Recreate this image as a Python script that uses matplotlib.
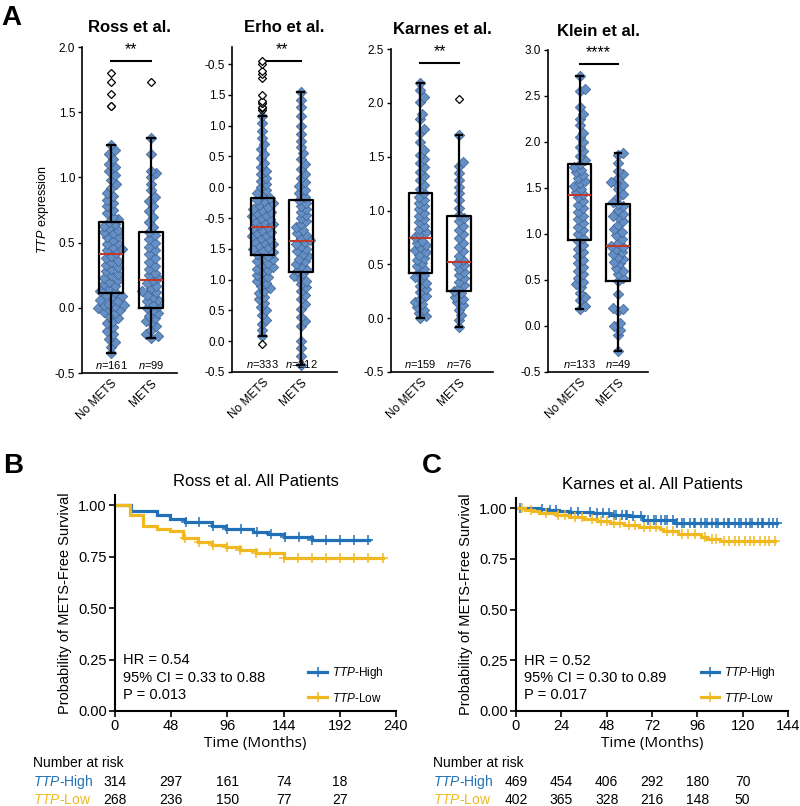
import numpy as np
import matplotlib
matplotlib.use('Agg')
import matplotlib.pyplot as plt
from matplotlib.lines import Line2D
from matplotlib.transforms import blended_transform_factory

plt.rcParams['font.family'] = ['Liberation Sans', 'DejaVu Sans']
plt.rcParams['mathtext.fontset'] = 'custom'
plt.rcParams['mathtext.it'] = 'Liberation Sans:italic'
plt.rcParams['mathtext.rm'] = 'Liberation Sans'

# ---------------- panel A data ----------------
groups = ['No METS', 'METS']
studies = ['Ross et al.', 'Erho et al.', 'Karnes et al.', 'Klein et al.']
n_counts = [[161, 99], [333, 212], [159, 76], [133, 49]]
stars = ['**', '**', '**', '****']

ross_no = [-0.35, -0.30, -0.26, -0.24, -0.20, -0.18, -0.15, -0.12, -0.10, -0.08, -0.06, -0.04,
           -0.03, -0.02, -0.01, 0.00, 0.01, 0.02, 0.02, 0.03, 0.05, 0.06, 0.08, 0.09, 0.10,
           0.12, 0.13, 0.15, 0.17, 0.18, 0.20, 0.21, 0.23, 0.25, 0.26, 0.28, 0.30, 0.31, 0.33,
           0.35, 0.36, 0.38, 0.40, 0.42, 0.44, 0.45, 0.47, 0.49, 0.50, 0.52, 0.54, 0.55, 0.57,
           0.58, 0.60, 0.61, 0.63, 0.64, 0.66, 0.68, 0.70, 0.73, 0.75, 0.78, 0.80, 0.83, 0.86,
           0.88, 0.92, 0.95, 0.98, 1.02, 1.05, 1.08, 1.10, 1.14, 1.18, 1.21, 1.25]
ross_mets = [-0.23, -0.22, -0.20, -0.17, -0.14, -0.12, -0.10, -0.08, -0.06, -0.04, -0.02, 0.00,
             0.01, 0.03, 0.05, 0.06, 0.08, 0.10, 0.12, 0.13, 0.15, 0.17, 0.19, 0.21, 0.23, 0.25,
             0.27, 0.30, 0.32, 0.35, 0.38, 0.41, 0.44, 0.47, 0.50, 0.53, 0.56, 0.58, 0.62, 0.66,
             0.70, 0.74, 0.78, 0.82, 0.85, 0.90, 0.95, 1.00, 1.03, 1.05, 1.18, 1.30]
erho_no = [0.08, 0.18, 0.28, 0.35, 0.42, 0.50, 0.55, 0.62, 0.68, 0.72, 0.78, 0.82, 0.86, 0.90,
           0.94, 0.98, 1.02, 1.05, 1.08, 1.12, 1.15, 1.18, 1.21, 1.24, 1.27, 1.30, 1.33, 1.36,
           1.39, 1.42, 1.45, 1.48, 1.50, 1.53, 1.56, 1.58, 1.61, 1.63, 1.66, 1.68, 1.71, 1.73,
           1.76, 1.78, 1.81, 1.83, 1.85, 1.88, 1.90, 1.93, 1.95, 1.98, 2.00, 2.03, 2.05, 2.08,
           2.10, 2.13, 2.15, 2.18, 2.21, 2.24, 2.27, 2.30, 2.33, 2.37, 2.41, 2.45, 2.50, 2.55,
           2.60, 2.65, 2.71, 2.77, 2.83, 2.90, 2.97, 3.04, 3.12, 3.20, 3.30, 3.42, 3.55, 3.66]
erho_mets = [-0.38, -0.24, -0.11, 0.00, 0.24, 0.32, 0.40, 0.52, 0.60, 0.68, 0.75, 0.82, 0.88,
             0.93, 0.98, 1.02, 1.06, 1.10, 1.14, 1.18, 1.22, 1.26, 1.30, 1.34, 1.38, 1.42, 1.46,
             1.50, 1.54, 1.58, 1.61, 1.64, 1.68, 1.72, 1.76, 1.80, 1.85, 1.90, 1.95, 2.00, 2.05,
             2.10, 2.15, 2.20, 2.25, 2.29, 2.34, 2.40, 2.46, 2.52, 2.58, 2.65, 2.72, 2.80, 2.88,
             2.96, 3.05, 3.15, 3.25, 3.37, 3.50, 3.65, 3.80, 3.92, 4.05]
karnes_no = [0.00, 0.02, 0.05, 0.08, 0.10, 0.13, 0.15, 0.18, 0.21, 0.24, 0.27, 0.30, 0.33, 0.36,
             0.38, 0.40, 0.43, 0.46, 0.48, 0.51, 0.54, 0.56, 0.59, 0.61, 0.63, 0.66, 0.68, 0.70,
             0.72, 0.75, 0.78, 0.80, 0.83, 0.86, 0.89, 0.92, 0.95, 0.98, 1.01, 1.04, 1.07, 1.10,
             1.13, 1.16, 1.20, 1.24, 1.28, 1.32, 1.36, 1.40, 1.44, 1.48, 1.52, 1.56, 1.64, 1.72,
             1.76, 1.85, 1.90, 2.01, 2.05, 2.12, 2.18]
karnes_mets = [-0.08, -0.02, 0.03, 0.08, 0.12, 0.15, 0.18, 0.20, 0.23, 0.25, 0.28, 0.31, 0.34,
               0.37, 0.40, 0.43, 0.46, 0.49, 0.51, 0.54, 0.58, 0.62, 0.66, 0.70, 0.74, 0.78,
               0.82, 0.86, 0.90, 0.93, 0.96, 1.02, 1.10, 1.16, 1.22, 1.28, 1.35, 1.41, 1.45, 1.70]
klein_no = [0.19, 0.22, 0.28, 0.32, 0.36, 0.42, 0.46, 0.48, 0.52, 0.56, 0.60, 0.64, 0.68, 0.72,
            0.76, 0.80, 0.84, 0.88, 0.92, 0.96, 1.00, 1.04, 1.08, 1.12, 1.16, 1.20, 1.24, 1.28,
            1.32, 1.36, 1.40, 1.43, 1.46, 1.49, 1.52, 1.55, 1.58, 1.61, 1.64, 1.67, 1.70, 1.73,
            1.76, 1.80, 1.85, 1.90, 1.95, 2.00, 2.05, 2.10, 2.18, 2.25, 2.30, 2.38, 2.55, 2.58, 2.72]
klein_mets = [-0.27, -0.10, -0.04, 0.00, 0.03, 0.16, 0.18, 0.20, 0.35, 0.49, 0.52, 0.57, 0.60,
              0.63, 0.68, 0.70, 0.73, 0.75, 0.78, 0.80, 0.84, 0.86, 0.87, 0.90, 0.95, 0.99, 1.02,
              1.05, 1.10, 1.14, 1.18, 1.20, 1.22, 1.26, 1.30, 1.33, 1.35, 1.40, 1.44, 1.49, 1.53,
              1.55, 1.57, 1.61, 1.65, 1.68, 1.77, 1.86, 1.88]
points = [[ross_no, ross_mets], [erho_no, erho_mets], [karnes_no, karnes_mets], [klein_no, klein_mets]]

# box statistics [No METS, METS]
box_q1 = [[0.11, 0.00], [1.40, 1.12], [0.42, 0.25], [0.94, 0.49]]
box_med = [[0.41, 0.21], [1.86, 1.62], [0.74, 0.52], [1.42, 0.87]]
box_q3 = [[0.66, 0.58], [2.33, 2.29], [1.16, 0.95], [1.76, 1.33]]
box_lo = [[-0.35, -0.23], [0.08, -0.38], [0.00, -0.08], [0.19, -0.27]]
box_hi = [[1.25, 1.30], [3.66, 4.05], [2.18, 1.70], [2.72, 1.88]]
outliers = [[[1.55, 1.55, 1.64, 1.73, 1.80], [1.73]],
            [[-0.04, 3.76, 3.78, 3.81, 3.86, 3.87, 3.90, 3.99, 4.27, 4.33, 4.38, 4.50, 4.55], []],
            [[], [2.04]],
            [[], []]]

erho_ticklabels = ['-0.5', '0.0', '0.5', '1.0', '1.5', '-0.5', '0.0', '0.5', '1.0', '1.5', '-0.5']

# ---------------- panels B / C data ----------------
ross_high_t = [0, 14, 36, 47, 60, 83, 95, 118, 131, 144, 168, 217]
ross_high_s = [1.00, 0.973, 0.952, 0.935, 0.92, 0.90, 0.887, 0.868, 0.86, 0.847, 0.83, 0.83]
ross_high_cens = [61, 72, 84, 96, 108, 121, 133, 145, 157, 168, 180, 192, 204, 216]
ross_low_t = [0, 13, 24, 36, 47, 58, 71, 83, 95, 107, 120, 144, 229]
ross_low_s = [1.00, 0.955, 0.90, 0.887, 0.874, 0.84, 0.823, 0.806, 0.795, 0.782, 0.77, 0.745, 0.745]
ross_low_cens = [60, 72, 84, 96, 107, 120, 132, 144, 156, 168, 180, 192, 204, 216, 229]

karnes_high_t = [0, 12, 17, 23, 28, 40, 50, 60, 67, 84, 138]
karnes_high_s = [1.0, 0.997, 0.993, 0.985, 0.98, 0.975, 0.968, 0.96, 0.94, 0.928, 0.928]
karnes_high_cens = [2, 14, 18, 21, 29, 33, 39, 43, 46, 49, 52, 53, 56, 58, 59, 62, 66, 70, 73,
                    74, 77, 79, 80, 83, 85, 88, 89, 92, 94, 95, 98, 100, 101, 104, 106, 107, 110,
                    112, 113, 116, 118, 119, 122, 124, 125, 128, 130, 131, 134, 136, 138]
karnes_low_t = [0, 5, 9, 12, 21, 28, 36, 43, 50, 57, 65, 76, 78, 86, 98, 101, 108, 137]
karnes_low_s = [1.0, 0.99, 0.985, 0.975, 0.965, 0.955, 0.945, 0.935, 0.925, 0.917, 0.905, 0.895,
                0.885, 0.875, 0.86, 0.848, 0.84, 0.84]
karnes_low_cens = [3, 8, 16, 22, 26, 31, 35, 40, 45, 48, 52, 55, 60, 63, 68, 71, 74, 80, 83, 88,
                   91, 95, 100, 104, 106, 110, 113, 116, 118, 121, 124, 126, 129, 132, 134, 137]

ross_risk_t = [0, 48, 96, 144, 192]
ross_risk_high = [314, 297, 161, 74, 18]
ross_risk_low = [268, 236, 150, 77, 27]
karnes_risk_t = [0, 24, 48, 72, 96, 120]
karnes_risk_high = [469, 454, 406, 292, 180, 70]
karnes_risk_low = [402, 365, 328, 216, 148, 50]

ross_stats = ['HR = 0.54', '95% CI = 0.33 to 0.88', 'P = 0.013']
karnes_stats = ['HR = 0.52', '95% CI = 0.30 to 0.89', 'P = 0.017']

BLUE = '#2271b8'
YELLOW = '#f0b921'
PT_FACE = '#6590c6'
PT_EDGE = '#44699a'

W, H = 800, 806
fig = plt.figure(figsize=(8, 8.06), dpi=100)


def px_axes(l, t, r, b):
    return fig.add_axes([l / W, 1 - b / H, (r - l) / W, (b - t) / H])


def swarm(ax, xc, vals, dmin=5.6, step=1.8, kmax=8):
    # simple beeswarm in pixel space, offsets capped at kmax*step
    pts = ax.transData.transform(np.column_stack([np.full(len(vals), xc), vals]))
    ys = pts[:, 1]
    cands = [0.0]
    for k in range(1, kmax + 1):
        cands += [k * step, -k * step]
    placed = []
    offs = np.zeros(len(vals))
    for i in np.argsort(ys):
        y = ys[i]
        near = [(px, py) for px, py in placed if abs(py - y) < dmin]
        best, best_d = 0.0, -1.0
        for c in cands:
            d = min([np.hypot(c - px, y - py) for px, py in near], default=99.0)
            if d >= dmin:
                best = c
                break
            if d > best_d:
                best, best_d = c, d
        offs[i] = best
        placed.append((best, y))
    xpx = ax.transData.transform([[0, 0], [1, 0]])
    ppu = xpx[1, 0] - xpx[0, 0]
    return xc + offs / ppu


# ---------------- panel A ----------------
top_boxes = [(82, 47, 177, 373), (232, 47, 337, 372), (391, 49, 493, 372), (548, 50, 648, 372)]
top_xlim = [(0.276, 2.651), (0.209, 2.936), (0.234, 2.884), (0.181, 2.78)]
top_ylim = [(-0.5, 2.0), (-0.5, 4.776), (-0.5, 2.5), (-0.5, 3.0)]

for i, study in enumerate(studies):
    ax = px_axes(*top_boxes[i])
    ax.set_xlim(*top_xlim[i])
    ax.set_ylim(*top_ylim[i])
    for sp in ['top', 'right']:
        ax.spines[sp].set_visible(False)
    for sp in ['left', 'bottom']:
        ax.spines[sp].set_linewidth(1.2)

    for g in range(2):
        xs = swarm(ax, g + 1, points[i][g])
        ax.scatter(xs, points[i][g], marker='D', s=28, facecolor=PT_FACE, edgecolor=PT_EDGE,
                   linewidth=0.6, zorder=3)
    stats = []
    for g in range(2):
        stats.append(dict(med=box_med[i][g], q1=box_q1[i][g], q3=box_q3[i][g],
                          whislo=box_lo[i][g], whishi=box_hi[i][g],
                          fliers=np.array(outliers[i][g])))
    ax.bxp(stats, positions=[1, 2], widths=0.6, capwidths=0.18, zorder=4, manage_ticks=False,
           boxprops=dict(color='black', linewidth=1.6),
           whiskerprops=dict(color='black', linewidth=1.6),
           capprops=dict(color='black', linewidth=1.6),
           medianprops=dict(color='#c0392b', linewidth=1.5),
           flierprops=dict(marker='D', markerfacecolor='white', markeredgecolor='black',
                           markersize=4.2, markeredgewidth=0.9))
    ax.set_xlim(*top_xlim[i])
    ax.set_ylim(*top_ylim[i])

    ax.tick_params(axis='y', length=3, width=1, labelsize=8.5, pad=2)
    ax.tick_params(axis='x', length=0, labelsize=8.5, pad=3)
    if i == 1:
        ax.set_yticks(np.arange(-0.5, 4.51, 0.5))
        ax.set_yticklabels(erho_ticklabels)
    else:
        yt = np.arange(-0.5, top_ylim[i][1] + 0.01, 0.5)
        ax.set_yticks(yt)
        ax.set_yticklabels(['%.1f' % v for v in yt])
    ax.set_xticks([1, 2])
    ax.set_xticklabels(groups, rotation=45, ha='right', rotation_mode='anchor')

    tr = blended_transform_factory(ax.transData, ax.transAxes)
    ax.plot([1, 2], [0.957, 0.957], color='black', lw=1.5, transform=tr, clip_on=False)
    ax.text(1.5, 0.978, stars[i], transform=tr, ha='center', va='baseline', fontsize=11.5)
    for g in range(2):
        ax.text(g + 1, 0.012, r'$\it{n}$=%d' % n_counts[i][g], transform=tr, ha='center',
                va='baseline', fontsize=8)
    ax.text(0.5, 1.045, study, transform=ax.transAxes, ha='center', va='baseline',
            fontsize=12, fontweight='bold')
    if i == 0:
        ax.set_ylabel(r'$\it{TTP}$ expression', fontsize=9, labelpad=3)

fig.text(0.002, 1 - 25 / H, 'A', fontsize=20, fontweight='bold', va='baseline')
fig.text(3 / W, 1 - 473 / H, 'B', fontsize=20, fontweight='bold', va='baseline')
fig.text(422 / W, 1 - 473 / H, 'C', fontsize=20, fontweight='bold', va='baseline')


# ---------------- panels B / C ----------------
def km_panel(box, xmax, xstep, title, high_t, high_s, high_c, low_t, low_s, low_c,
             risk_t, risk_high, risk_low, hr_text, label_x):
    ax = px_axes(*box)
    ax.set_xlim(0, xmax)
    ax.set_ylim(0, 1.05)
    for sp in ['top', 'right']:
        ax.spines[sp].set_visible(False)
    for sp in ['left', 'bottom']:
        ax.spines[sp].set_linewidth(1.5)
    ax.set_xticks(np.arange(0, xmax + 1, xstep))
    ax.set_yticks([0, 0.25, 0.5, 0.75, 1.0])
    ax.set_yticklabels(['0.00', '0.25', '0.50', '0.75', '1.00'])
    ax.tick_params(length=4, width=1.2, labelsize=10.5, pad=2)

    for t, s, c, col in [(high_t, high_s, high_c, BLUE), (low_t, low_s, low_c, YELLOW)]:
        ax.step(t, s, where='post', color=col, lw=2.3, solid_joinstyle='miter', clip_on=False)
        idx = np.searchsorted(t, c, side='right') - 1
        ax.plot(c, np.array(s)[idx], linestyle='none', marker='+', color=col, ms=7, mew=1.1,
                clip_on=False)

    ax.text(0.5, 1.04, title, transform=ax.transAxes, ha='center', va='baseline', fontsize=12)
    ax.set_ylabel('Probability of METS-Free Survival', fontsize=10.5, labelpad=4)
    ax.set_xlabel('Time (Months)', fontsize=11, family=['Open Sans', 'DejaVu Sans'], labelpad=2)
    for k, txt in enumerate(hr_text):
        ax.text(0.028, 0.236 - 0.081 * k, txt, transform=ax.transAxes, va='center', fontsize=10.5)

    handles = [Line2D([], [], color=BLUE, lw=2.3, marker='+', ms=7, mew=1.1),
               Line2D([], [], color=YELLOW, lw=2.3, marker='+', ms=7, mew=1.1)]
    ax.legend(handles, [r'$\it{TTP}$-High', r'$\it{TTP}$-Low'], loc='lower right',
              bbox_to_anchor=(0.955, 0.03), frameon=False, fontsize=8.5, handlelength=1.6,
              handletextpad=0.4, labelspacing=0.9, borderpad=0, borderaxespad=0)

    trf = blended_transform_factory(ax.transData, fig.transFigure)
    fig.text(label_x / W, 1 - 763 / H, 'Number at risk', fontsize=10, va='center')
    fig.text(label_x / W, 1 - 782 / H, r'$\it{TTP}$-High', fontsize=10, va='center', color=BLUE)
    fig.text(label_x / W, 1 - 800 / H, r'$\it{TTP}$-Low', fontsize=10, va='center', color=YELLOW)
    for t, a, b in zip(risk_t, risk_high, risk_low):
        ax.text(t, 1 - 782 / H, str(a), transform=trf, ha='center', va='center', fontsize=10,
                clip_on=False)
        ax.text(t, 1 - 800 / H, str(b), transform=trf, ha='center', va='center', fontsize=10,
                clip_on=False)
    return ax


km_panel((115, 495, 396, 711), 240, 48, 'Ross et al. All Patients',
         ross_high_t, ross_high_s, ross_high_cens, ross_low_t, ross_low_s, ross_low_cens,
         ross_risk_t, ross_risk_high, ross_risk_low, ross_stats, 33)
km_panel((516, 498, 788, 711), 144, 24, 'Karnes et al. All Patients',
         karnes_high_t, karnes_high_s, karnes_high_cens, karnes_low_t, karnes_low_s, karnes_low_cens,
         karnes_risk_t, karnes_risk_high, karnes_risk_low, karnes_stats, 433)

fig.savefig('out.png', dpi=100)
